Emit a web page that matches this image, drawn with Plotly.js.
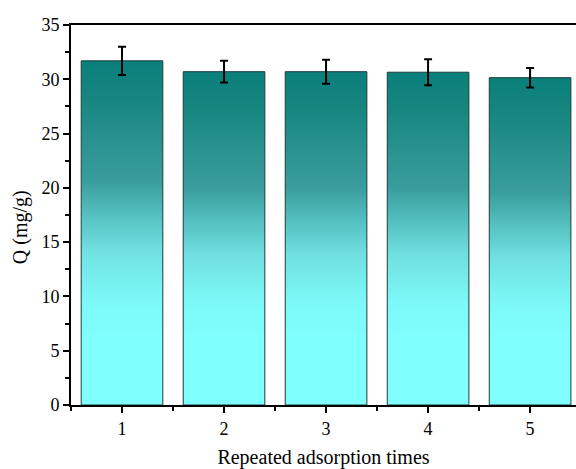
<!DOCTYPE html>
<html>
<head>
<meta charset="utf-8">
<script src="https://cdn.plot.ly/plotly-3.0.1.min.js"></script>
<style>html,body{margin:0;padding:0;background:#fff;}#chart{width:576px;height:469px;}</style>
</head>
<body>
<div id="chart"></div>
<script>
const categories = [1, 2, 3, 4, 5];
const qValues = [31.7, 30.7, 30.7, 30.65, 30.15];
const qErrors = [1.3, 1.0, 1.1, 1.2, 0.9];
const xTitle = 'Repeated adsorption times';
const yTitle = 'Q (mg/g)';

const font = 'Liberation Serif, Times New Roman, serif';

const trace = {
  type: 'bar',
  x: categories,
  y: qValues,
  width: 0.8,
  marker: {color: '#40bfbf', line: {color: '#1c3c3c', width: 1}},
  error_y: {type: 'data', array: qErrors, visible: true, color: '#000', thickness: 2, width: 4}
};

const layout = {
  width: 576, height: 469,
  margin: {l: 71, r: 0, t: 25, b: 64},
  paper_bgcolor: '#fff', plot_bgcolor: '#fff',
  showlegend: false,
  font: {family: font, color: '#000', size: 18},
  xaxis: {
    range: [0.5, 5.45], tickmode: 'linear', tick0: 1, dtick: 1,
    ticks: 'outside', ticklen: 6, tickwidth: 2, tickcolor: '#000',
    showline: true, linecolor: '#000', linewidth: 2, mirror: true,
    showgrid: false, zeroline: false,
    minor: {tickmode: 'linear', tick0: 0.5, dtick: 1, ticks: 'outside', ticklen: 4, tickwidth: 2, tickcolor: '#000'},
    tickfont: {family: font, size: 18},
    title: {text: xTitle, font: {family: font, size: 20}, standoff: 16}
  },
  yaxis: {
    range: [0, 35], tickmode: 'linear', tick0: 0, dtick: 5,
    ticks: 'outside', ticklen: 6, tickwidth: 2, tickcolor: '#000',
    showline: true, linecolor: '#000', linewidth: 2, mirror: false,
    showgrid: false, zeroline: false,
    minor: {tickmode: 'linear', tick0: 0, dtick: 2.5, ticks: 'outside', ticklen: 4, tickwidth: 2, tickcolor: '#000'},
    tickfont: {family: font, size: 18}
  },
  annotations: [{
    text: yTitle, xref: 'paper', yref: 'paper', x: 0, y: 0.468,
    xshift: -51, textangle: -90, showarrow: false,
    xanchor: 'center', yanchor: 'middle',
    font: {family: font, size: 20, color: '#000'}
  }]
};

function applyGradient(gd) {
  const svg = gd.querySelector('svg.main-svg');
  if (!svg) return;
  const ns = 'http://www.w3.org/2000/svg';
  let defs = svg.querySelector('defs');
  if (!defs) { defs = document.createElementNS(ns, 'defs'); svg.insertBefore(defs, svg.firstChild); }
  if (!svg.querySelector('#barGrad')) {
    const g = document.createElementNS(ns, 'linearGradient');
    g.setAttribute('id', 'barGrad');
    g.setAttribute('x1', '0'); g.setAttribute('y1', '0');
    g.setAttribute('x2', '0'); g.setAttribute('y2', '1');
    const stops = [[0, '#0a7f7b'], [0.11, '#17867f'], [0.35, '#3a9d9d'], [0.46, '#58c4c4'], [0.55, '#70e0e0'], [0.69, '#7cf8f8'], [0.8, '#80ffff'], [1, '#80ffff']];
    stops.forEach(([o, c]) => {
      const s = document.createElementNS(ns, 'stop');
      s.setAttribute('offset', o);
      s.setAttribute('stop-color', c);
      g.appendChild(s);
    });
    defs.appendChild(g);
  }
  gd.querySelectorAll('.barlayer .point path').forEach(p => { p.style.fill = 'url(#barGrad)'; });
}

Plotly.newPlot('chart', [trace], layout, {displayModeBar: false, staticPlot: true}).then(applyGradient);
</script>
</body>
</html>
